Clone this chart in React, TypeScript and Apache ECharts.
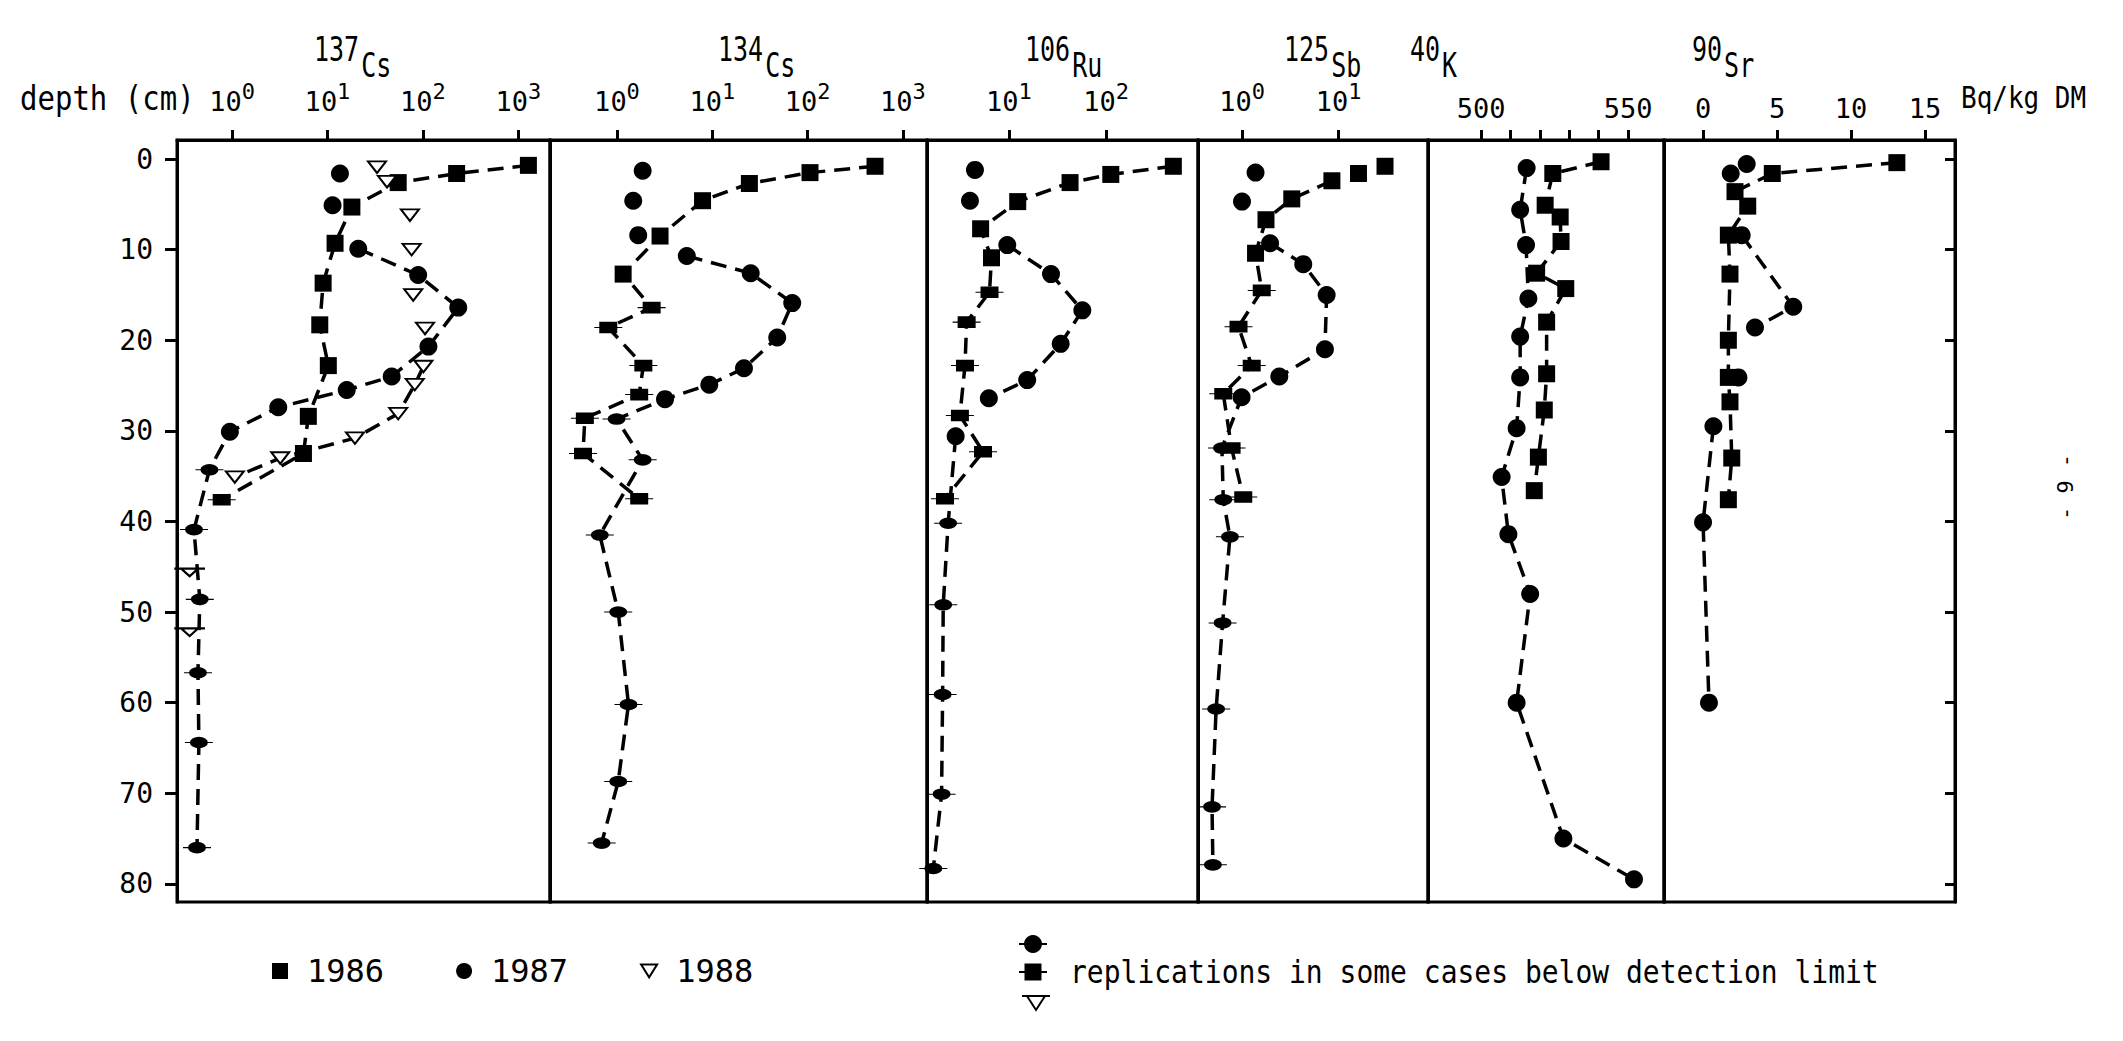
import React, { useEffect, useRef } from "react";
import * as echarts from "echarts";

// ---------------- data ----------------
const depthTicks = [0, 10, 20, 30, 40, 50, 60, 70, 80];
const cs137Ticks = [1, 10, 100, 1000];
const cs134Ticks = [1, 10, 100, 1000];
const ru106Ticks = [10, 100];
const sb125Ticks = [1, 10];
const k40Ticks = [500, 510, 520, 530, 540, 550];
const k40Labels = [500, 550];
const sr90Ticks = [0, 5, 10, 15];

const years = ["1986", "1987", "1988"];
const massNumbers = ["137", "134", "106", "125", "40", "90"];
const elementSymbols = ["Cs", "Cs", "Ru", "Sb", "K", "Sr"];
const unitLabel = "Bq/kg DM";
const depthLabel = "depth (cm)";
const noteText = "replications in some cases below detection limit";
const pageNumber = "- 9 -";

// 137Cs
const cs137_1986_value = [1270, 225, 55, 18, 12, 9.0, 8.3, 10.2, 6.3, 5.6, 0.78];
const cs137_1986_depth = [0.7, 1.6, 2.6, 5.3, 9.3, 13.7, 18.3, 22.8, 28.4, 32.5, 37.6];
const cs137_1986_rep = [0, 0, 0, 0, 0, 0, 0, 0, 0, 0, 1];
const cs137_1986_breaks: number[] = [];
const cs137_1987_value = [13.5, 11.3, 21, 89, 234, 114, 47, 15.9, 3.05, 0.95, 0.58, 0.4, 0.46, 0.44, 0.45, 0.43];
const cs137_1987_depth = [1.6, 5.1, 9.9, 12.8, 16.4, 20.7, 24.0, 25.5, 27.4, 30.1, 34.3, 40.9, 48.6, 56.7, 64.4, 76.0];
const cs137_1987_rep = [0, 0, 0, 0, 0, 0, 0, 0, 0, 0, 1, 1, 1, 1, 1, 1];
const cs137_1987_breaks = [0, 1];
const cs137_1988_value = [33, 42, 73, 76, 79, 105, 101, 82, 55, 19.4, 3.2, 1.07, 0.36, 0.36];
const cs137_1988_depth = [0.9, 2.5, 6.2, 10.0, 15.0, 18.7, 22.9, 24.9, 28.1, 30.8, 33.0, 35.1, 45.6, 52.2];
const cs137_1988_rep = [0, 0, 0, 0, 0, 0, 0, 0, 0, 0, 0, 0, 1, 1];
const cs137_1988_breaks = [0, 1, 2, 3, 4, 5, 11, 12];

// 134Cs
const cs134_1986_value = [510, 106, 24.5, 7.9, 2.83, 1.16, 2.31, 0.81, 1.89, 1.71, 0.46, 0.44, 1.71];
const cs134_1986_depth = [0.8, 1.5, 2.7, 4.6, 8.5, 12.7, 16.4, 18.6, 22.8, 26.0, 28.6, 32.5, 37.5];
const cs134_1986_rep = [0, 0, 0, 0, 0, 0, 1, 1, 1, 1, 1, 1, 1];
const cs134_1986_breaks: number[] = [];
const cs134_1987_value = [1.86, 1.48, 1.67, 5.4, 25.3, 69, 48, 21.5, 9.3, 3.19, 0.99, 1.86, 0.66, 1.03, 1.32, 1.03, 0.69];
const cs134_1987_depth = [1.3, 4.6, 8.4, 10.7, 12.6, 15.9, 19.7, 23.1, 24.9, 26.5, 28.7, 33.2, 41.5, 50.0, 60.2, 68.7, 75.5];
const cs134_1987_rep = [0, 0, 0, 0, 0, 0, 0, 0, 0, 0, 1, 1, 1, 1, 1, 1, 1];
const cs134_1987_breaks = [0, 1, 2];

// 106Ru
const ru106_1986_value = [494, 112, 42.6, 12.3, 5.1, 6.6, 6.3, 3.66, 3.52, 3.12, 5.4, 2.19];
const ru106_1986_depth = [0.8, 1.7, 2.6, 4.7, 7.7, 10.9, 14.7, 18.0, 22.8, 28.3, 32.3, 37.5];
const ru106_1986_rep = [0, 0, 0, 0, 0, 0, 1, 1, 1, 1, 1, 1];
const ru106_1986_breaks: number[] = [];
const ru106_1987_value = [4.46, 3.96, 9.6, 27.1, 57, 34.1, 15.4, 6.2, 2.82, 2.36, 2.1, 2.07, 2.02, 1.66];
const ru106_1987_depth = [1.2, 4.6, 9.5, 12.7, 16.7, 20.4, 24.4, 26.4, 30.6, 40.2, 49.2, 59.1, 70.1, 78.3];
const ru106_1987_rep = [0, 0, 0, 0, 0, 0, 0, 0, 0, 1, 1, 1, 1, 1];
const ru106_1987_breaks = [0, 1, 7];

// 125Sb
const sb125_1986_value = [30.1, 16.0, 8.5, 3.27, 1.77, 1.38, 1.6, 0.92, 1.26, 0.64, 0.78, 1.03];
const sb125_1986_depth = [0.8, 1.6, 2.4, 4.4, 6.7, 10.4, 14.5, 18.5, 22.8, 25.9, 31.9, 37.3];
const sb125_1986_rep = [0, 0, 0, 0, 0, 0, 1, 1, 1, 1, 1, 1];
const sb125_1986_breaks = [0, 1];
const sb125_1987_value = [1.38, 1.0, 1.95, 4.3, 7.5, 7.2, 2.43, 0.99, 0.62, 0.64, 0.75, 0.63, 0.54, 0.49, 0.5];
const sb125_1987_depth = [1.5, 4.7, 9.3, 11.6, 15.0, 21.0, 24.0, 26.3, 31.9, 37.6, 41.7, 51.2, 60.7, 71.5, 77.9];
const sb125_1987_rep = [0, 0, 0, 0, 0, 0, 0, 0, 1, 1, 1, 1, 1, 1, 1];
const sb125_1987_breaks = [0, 1];

// 40K
const k40_1986_value = [540.8, 524.4, 521.8, 526.9, 527.2, 518.9, 528.8, 522.3, 522.3, 521.5, 519.5, 518.1];
const k40_1986_depth = [0.3, 1.6, 5.1, 6.4, 9.1, 12.6, 14.3, 18.0, 23.7, 27.7, 32.9, 36.6];
const k40_1986_rep = [0, 0, 0, 0, 0, 0, 0, 0, 0, 0, 0, 0];
const k40_1986_breaks: number[] = [];
const k40_1987_value = [515.5, 513.3, 515.3, 516.1, 513.3, 513.3, 512.1, 507.0, 509.3, 516.7, 512.1, 528, 552];
const k40_1987_depth = [1.0, 5.6, 9.5, 15.4, 19.6, 24.1, 29.7, 35.1, 41.4, 48.0, 60.0, 75.0, 79.5];
const k40_1987_rep = [0, 0, 0, 0, 0, 0, 0, 0, 0, 0, 0, 0, 0];
const k40_1987_breaks: number[] = [];

// 90Sr
const sr90_1986_value = [13.1, 4.68, 2.16, 3.02, 1.71, 1.82, 1.71, 1.71, 1.82, 1.94, 1.71];
const sr90_1986_depth = [0.4, 1.6, 3.6, 5.2, 8.4, 12.7, 20.0, 24.1, 26.8, 33.0, 37.6];
const sr90_1986_rep = [0, 0, 0, 0, 0, 0, 0, 0, 0, 0, 0];
const sr90_1986_breaks: number[] = [];
const sr90_1987_value = [2.95, 1.87, 2.61, 6.1, 3.51, 2.39, 0.7, 0.0, 0.4];
const sr90_1987_depth = [0.55, 1.6, 8.4, 16.3, 18.6, 24.1, 29.5, 40.1, 60.0];
const sr90_1987_rep = [0, 0, 0, 0, 0, 0, 0, 0, 0];
const sr90_1987_breaks = [0, 1, 4, 5];

// ---------------- styling / layout ----------------
const FONT = "'DejaVu Sans Mono', 'Liberation Mono', monospace";
const EDGES = [177, 550, 927, 1198, 1428, 1664, 1955];
const GRID_TOP = 140;
const GRID_HEIGHT = 762;
const Y_MIN = -2.1;
const Y_MAX = 82;
const TITLE_X = [314, 718, 1025, 1284, 1410, 1692];
const TITLE_FONT = 25;
const CHAR_W = TITLE_FONT * 0.602;

const SYM: Record<string, string> = {
  square: "rect",
  circle: "circle",
  triangle: "path://M0,0 L20,0 L10,16 Z",
};
const SYM_SIZE: Record<string, any> = { square: 17, circle: 18, triangle: [18, 14.4] };
const REP_SYM: Record<string, string> = {
  square: "path://M0,8.2 L28,8.2 L28,9.8 L0,9.8 Z M5,0 L23,0 L23,18 L5,18 Z",
  circle: "path://M0,8.2 L28,8.2 L28,9.8 L0,9.8 Z M14,0 A9,9 0 1 1 14,18 A9,9 0 1 1 14,0 Z",
  triangle: "path://M0,0 L28,0 L28,1.6 L0,1.6 Z M5,0 L23,0 L14,15 Z",
};
const REP_SIZE: Record<string, any> = { square: [28, 18], circle: [28, 18], triangle: [28, 15] };
const KIND_BY_YEAR = ["square", "circle", "triangle"];

const panelAxes = [
  { type: "log", min: Math.pow(10, -0.576), max: Math.pow(10, 3.33), ticks: cs137Ticks, labels: cs137Ticks },
  { type: "log", min: Math.pow(10, -0.703), max: Math.pow(10, 3.253), ticks: cs134Ticks, labels: cs134Ticks },
  { type: "log", min: Math.pow(10, 0.155), max: Math.pow(10, 2.948), ticks: ru106Ticks, labels: ru106Ticks },
  { type: "log", min: Math.pow(10, -0.455), max: Math.pow(10, 1.923), ticks: sb125Ticks, labels: sb125Ticks },
  { type: "value", min: 481.97, max: 562.2, ticks: k40Ticks, labels: k40Labels },
  { type: "value", min: -2.64, max: 17.03, ticks: sr90Ticks, labels: sr90Ticks },
];

const profiles = [
  { panel: 0, year: 0, values: cs137_1986_value, depths: cs137_1986_depth, rep: cs137_1986_rep, breaks: cs137_1986_breaks },
  { panel: 0, year: 1, values: cs137_1987_value, depths: cs137_1987_depth, rep: cs137_1987_rep, breaks: cs137_1987_breaks },
  { panel: 0, year: 2, values: cs137_1988_value, depths: cs137_1988_depth, rep: cs137_1988_rep, breaks: cs137_1988_breaks },
  { panel: 1, year: 0, values: cs134_1986_value, depths: cs134_1986_depth, rep: cs134_1986_rep, breaks: cs134_1986_breaks },
  { panel: 1, year: 1, values: cs134_1987_value, depths: cs134_1987_depth, rep: cs134_1987_rep, breaks: cs134_1987_breaks },
  { panel: 2, year: 0, values: ru106_1986_value, depths: ru106_1986_depth, rep: ru106_1986_rep, breaks: ru106_1986_breaks },
  { panel: 2, year: 1, values: ru106_1987_value, depths: ru106_1987_depth, rep: ru106_1987_rep, breaks: ru106_1987_breaks },
  { panel: 3, year: 0, values: sb125_1986_value, depths: sb125_1986_depth, rep: sb125_1986_rep, breaks: sb125_1986_breaks },
  { panel: 3, year: 1, values: sb125_1987_value, depths: sb125_1987_depth, rep: sb125_1987_rep, breaks: sb125_1987_breaks },
  { panel: 4, year: 0, values: k40_1986_value, depths: k40_1986_depth, rep: k40_1986_rep, breaks: k40_1986_breaks },
  { panel: 4, year: 1, values: k40_1987_value, depths: k40_1987_depth, rep: k40_1987_rep, breaks: k40_1987_breaks },
  { panel: 5, year: 0, values: sr90_1986_value, depths: sr90_1986_depth, rep: sr90_1986_rep, breaks: sr90_1986_breaks },
  { panel: 5, year: 1, values: sr90_1987_value, depths: sr90_1987_depth, rep: sr90_1987_rep, breaks: sr90_1987_breaks },
];

function buildData(values: number[], depths: number[], rep: number[], breaks: number[], kind: string) {
  const out: any[] = [];
  values.forEach((v, i) => {
    out.push({
      value: [v, depths[i]],
      symbol: rep[i] ? REP_SYM[kind] : SYM[kind],
      symbolSize: rep[i] ? REP_SIZE[kind] : SYM_SIZE[kind],
    });
    if (breaks.indexOf(i) >= 0) out.push({ value: ["-", "-"] });
  });
  return out;
}

function buildOption() {
  const grids = panelAxes.map((_, i) => ({
    left: EDGES[i],
    width: EDGES[i + 1] - EDGES[i],
    top: GRID_TOP,
    height: GRID_HEIGHT,
    show: true,
    borderColor: "#000",
    borderWidth: 3,
    backgroundColor: "transparent",
    containLabel: false,
    outerBoundsMode: "none",
  }));

  const xAxes = panelAxes.map((a, i) => ({
    gridIndex: i,
    type: a.type,
    logBase: 10,
    position: "top",
    min: a.min,
    max: a.max,
    axisLine: { show: true, onZero: false, lineStyle: { color: "#000", width: 3 } },
    axisTick: { show: true, length: 10, lineStyle: { color: "#000", width: 3 }, customValues: a.ticks },
    axisLabel: {
      show: true,
      customValues: a.labels,
      margin: 18,
      color: "#000",
      fontFamily: FONT,
      fontSize: 27,
      formatter:
        a.type === "log"
          ? (v: number) => `{b|10}{s|${Math.round(Math.log10(v))}}`
          : (v: number) => `{b|${v}}`,
      rich: {
        b: { fontFamily: FONT, fontSize: 27, color: "#000" },
        s: { fontFamily: FONT, fontSize: 22, color: "#000", padding: [0, 0, 20, 0] },
      },
    },
    splitLine: { show: false },
  }));

  const yAxes: any[] = panelAxes.map((_, i) => ({
    gridIndex: i,
    type: "value",
    inverse: true,
    min: Y_MIN,
    max: Y_MAX,
    position: "left",
    axisLine: { show: true, onZero: false, lineStyle: { color: "#000", width: 3 } },
    axisTick: { show: i === 0, length: 12, lineStyle: { color: "#000", width: 3 }, customValues: depthTicks },
    axisLabel: {
      show: i === 0,
      customValues: depthTicks,
      margin: 24,
      color: "#000",
      fontFamily: FONT,
      fontSize: 28,
    },
    splitLine: { show: false },
  }));
  yAxes.push({
    gridIndex: 5,
    type: "value",
    inverse: true,
    min: Y_MIN,
    max: Y_MAX,
    position: "right",
    axisLine: { show: true, onZero: false, lineStyle: { color: "#000", width: 3 } },
    axisTick: { show: true, inside: true, length: 10, lineStyle: { color: "#000", width: 3 }, customValues: depthTicks },
    axisLabel: { show: false },
    splitLine: { show: false },
  });

  const series = profiles.map((p) => {
    const kind = KIND_BY_YEAR[p.year];
    const hollow = kind === "triangle";
    return {
      type: "line",
      name: years[p.year],
      xAxisIndex: p.panel,
      yAxisIndex: p.panel,
      data: buildData(p.values, p.depths, p.rep, p.breaks, kind),
      connectNulls: false,
      clip: false,
      showAllSymbol: true,
      symbolKeepAspect: true,
      lineStyle: { color: "#000", width: 3.5, type: [16, 9] },
      itemStyle: hollow
        ? { color: "#fff", borderColor: "#000", borderWidth: 2 }
        : { color: "#000", borderWidth: 0 },
      emphasis: { disabled: true },
      z: 2 + p.year,
    };
  });

  const graphics: any[] = [];
  massNumbers.forEach((m, i) => {
    graphics.push({
      type: "text",
      x: TITLE_X[i],
      y: 66,
      scaleY: 1.35,
      style: { text: m, fontFamily: FONT, fontSize: TITLE_FONT, fill: "#000", textVerticalAlign: "bottom", verticalAlign: "bottom" },
    });
    graphics.push({
      type: "text",
      x: TITLE_X[i] + m.length * CHAR_W + 2,
      y: 82,
      scaleY: 1.35,
      style: {
        text: elementSymbols[i],
        fontFamily: FONT,
        fontSize: TITLE_FONT,
        fill: "#000",
        textVerticalAlign: "bottom",
        verticalAlign: "bottom",
      },
    });
  });
  graphics.push({
    type: "text",
    x: 20,
    y: 98,
    scaleY: 1.15,
    style: { text: depthLabel, fontFamily: FONT, fontSize: 29, fill: "#000", textVerticalAlign: "middle", verticalAlign: "middle" },
  });
  graphics.push({
    type: "text",
    x: 1961,
    y: 98,
    scaleY: 1.15,
    style: { text: unitLabel, fontFamily: FONT, fontSize: 26, fill: "#000", textVerticalAlign: "middle", verticalAlign: "middle" },
  });
  graphics.push({
    type: "text",
    x: 2065,
    y: 487,
    rotation: Math.PI / 2,
    style: {
      text: pageNumber,
      fontFamily: FONT,
      fontSize: 22,
      fill: "#000",
      textAlign: "center",
      align: "center",
      textVerticalAlign: "middle",
      verticalAlign: "middle",
    },
  });
  // replication legend
  graphics.push(
    { type: "rect", shape: { x: 1019, y: 943, width: 28, height: 2 }, style: { fill: "#000" } },
    { type: "circle", shape: { cx: 1033, cy: 944, r: 9 }, style: { fill: "#000" } },
    { type: "rect", shape: { x: 1019, y: 971, width: 28, height: 2 }, style: { fill: "#000" } },
    { type: "rect", shape: { x: 1024.5, y: 963.5, width: 17, height: 17 }, style: { fill: "#000" } },
    {
      type: "polygon",
      shape: { points: [[1027, 996], [1045, 996], [1036, 1010]] },
      style: { fill: "#fff", stroke: "#000", lineWidth: 2 },
    },
    { type: "line", shape: { x1: 1022, y1: 996, x2: 1050, y2: 996 }, style: { stroke: "#000", lineWidth: 2 } },
    {
      type: "text",
      x: 1070,
      y: 972,
      scaleY: 1.15,
      style: { text: noteText, fontFamily: FONT, fontSize: 28, fill: "#000", textVerticalAlign: "middle", verticalAlign: "middle" },
    }
  );

  return {
    animation: false,
    backgroundColor: "#fff",
    textStyle: { fontFamily: FONT, color: "#000" },
    grid: grids,
    xAxis: xAxes,
    yAxis: yAxes,
    series,
    legend: {
      show: true,
      left: 267,
      top: 950,
      orient: "horizontal",
      itemWidth: 16,
      itemHeight: 16,
      itemGap: 72,
      selectedMode: false,
      textStyle: { fontFamily: FONT, fontSize: 32, color: "#000", padding: [0, 0, 0, 14] },
      data: [
        { name: years[0], icon: "rect", itemStyle: { color: "#000", borderWidth: 0 } },
        { name: years[1], icon: "circle", itemStyle: { color: "#000", borderWidth: 0 } },
        { name: years[2], icon: SYM.triangle, itemStyle: { color: "#fff", borderColor: "#000", borderWidth: 2 } },
      ],
    },
    graphic: graphics,
  };
}

export default function App() {
  const ref = useRef<HTMLDivElement>(null);
  useEffect(() => {
    if (!ref.current) return;
    const chart = echarts.init(ref.current, null, { renderer: "svg", width: 2123, height: 1041 });
    chart.setOption(buildOption() as any);
    return () => chart.dispose();
  }, []);
  return (
    <div
      ref={ref}
      style={{ position: "absolute", left: 0, top: 0, width: 2123, height: 1041, background: "#fff" }}
    />
  );
}
